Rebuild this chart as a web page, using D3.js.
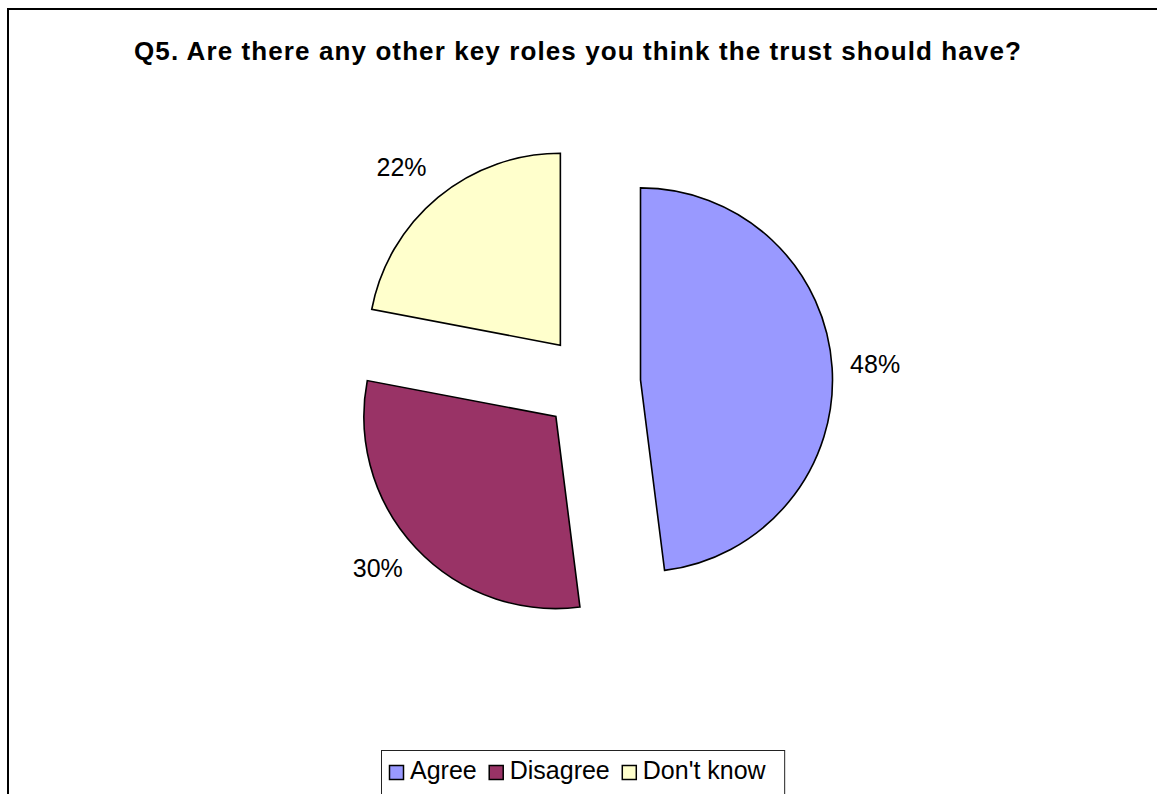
<!DOCTYPE html>
<html>
<head>
<meta charset="utf-8">
<script src="https://cdn.jsdelivr.net/npm/d3@7"></script>
<style>
  html, body { margin: 0; padding: 0; background: #fff; }
  svg { display: block; }
  text { font-family: "Liberation Sans", Arial, sans-serif; fill: #000; }
</style>
</head>
<body>
<svg id="chart" width="1157" height="794"></svg>
<script>
// Survey answers for Q5
const categories = ["Agree", "Disagree", "Don't know"];
const shares = [48, 30, 22];
const sliceColors = ["#9999FF", "#993366", "#FFFFCC"];
const titleText = "Q5. Are there any other key roles you think the trust should have?";

const svg = d3.select("#chart");
const W = 1157, H = 794;

// chart frame (left and top edges visible)
svg.append("path")
  .attr("d", `M8,${H + 5} V9 H${W + 5}`)
  .attr("fill", "none")
  .attr("stroke", "#000")
  .attr("stroke-width", 2);

// title
svg.append("text")
  .attr("x", 578)
  .attr("y", 60)
  .attr("text-anchor", "middle")
  .style("font-size", "26px")
  .style("font-weight", "bold")
  .style("letter-spacing", "1.1px")
  .text(titleText);

// pie geometry
const cx = 591.6, cy = 383, R = 192, explode = 49;
const color = d3.scaleOrdinal().domain(categories).range(sliceColors);

const pie = d3.pie().sort(null).value(d => d.value).startAngle(0).endAngle(2 * Math.PI);
const arcs = pie(categories.map((c, i) => ({ name: c, value: shares[i] })));
const arcGen = d3.arc().innerRadius(0).outerRadius(R);
const midAngle = d => (d.startAngle + d.endAngle) / 2;

const g = svg.append("g").attr("transform", `translate(${cx},${cy})`);

const slice = g.selectAll("g.slice")
  .data(arcs)
  .join("g")
  .attr("class", "slice")
  .attr("transform", d => {
    const a = midAngle(d);
    return `translate(${explode * Math.sin(a)},${-explode * Math.cos(a)})`;
  });

slice.append("path")
  .attr("d", arcGen)
  .attr("fill", d => color(d.data.name))
  .attr("stroke", "#000")
  .attr("stroke-width", 1.6)
  .attr("stroke-linejoin", "miter");

// percentage labels outside each slice; the label box runs from cap top
// down to a little below the baseline and is pushed clear of the rim
const pad = 18, capH = 17, desc = 7.6;
const clamp = v => Math.max(-1, Math.min(1, v));
slice.append("text")
  .attr("text-anchor", "middle")
  .style("font-size", "25px")
  .text(d => d.data.value + "%")
  .each(function (d) {
    const a = midAngle(d);
    const w = this.getComputedTextLength();
    const sx = Math.sin(a), sy = -Math.cos(a);
    const x = (R + pad) * sx + (w / 2) * clamp(2 * sx);
    const push = sy < 0 ? capH / 2 + desc : capH / 2;
    const y = (R + pad) * sy + capH / 2 + push * clamp(2 * sy);
    d3.select(this).attr("x", x).attr("y", y);
  });

// legend
const legend = svg.append("g");
const legendBox = legend.append("rect")
  .attr("fill", "#fff")
  .attr("stroke", "#222")
  .attr("stroke-width", 1);

let x = 389;
const baseY = 779;
categories.forEach((c, i) => {
  legend.append("rect")
    .attr("x", x + 0.5)
    .attr("y", 765.5)
    .attr("width", 14)
    .attr("height", 14)
    .attr("fill", color(c))
    .attr("stroke", "#000")
    .attr("stroke-width", 1.5);
  const t = legend.append("text")
    .attr("x", x + 21)
    .attr("y", baseY)
    .style("font-size", "25px")
    .text(c);
  x += 21 + t.node().getComputedTextLength() + 12;
});
legendBox
  .attr("x", 381.5)
  .attr("y", 750.5)
  .attr("width", (x - 12 + 19) - 381.5)
  .attr("height", 80);
</script>
</body>
</html>
